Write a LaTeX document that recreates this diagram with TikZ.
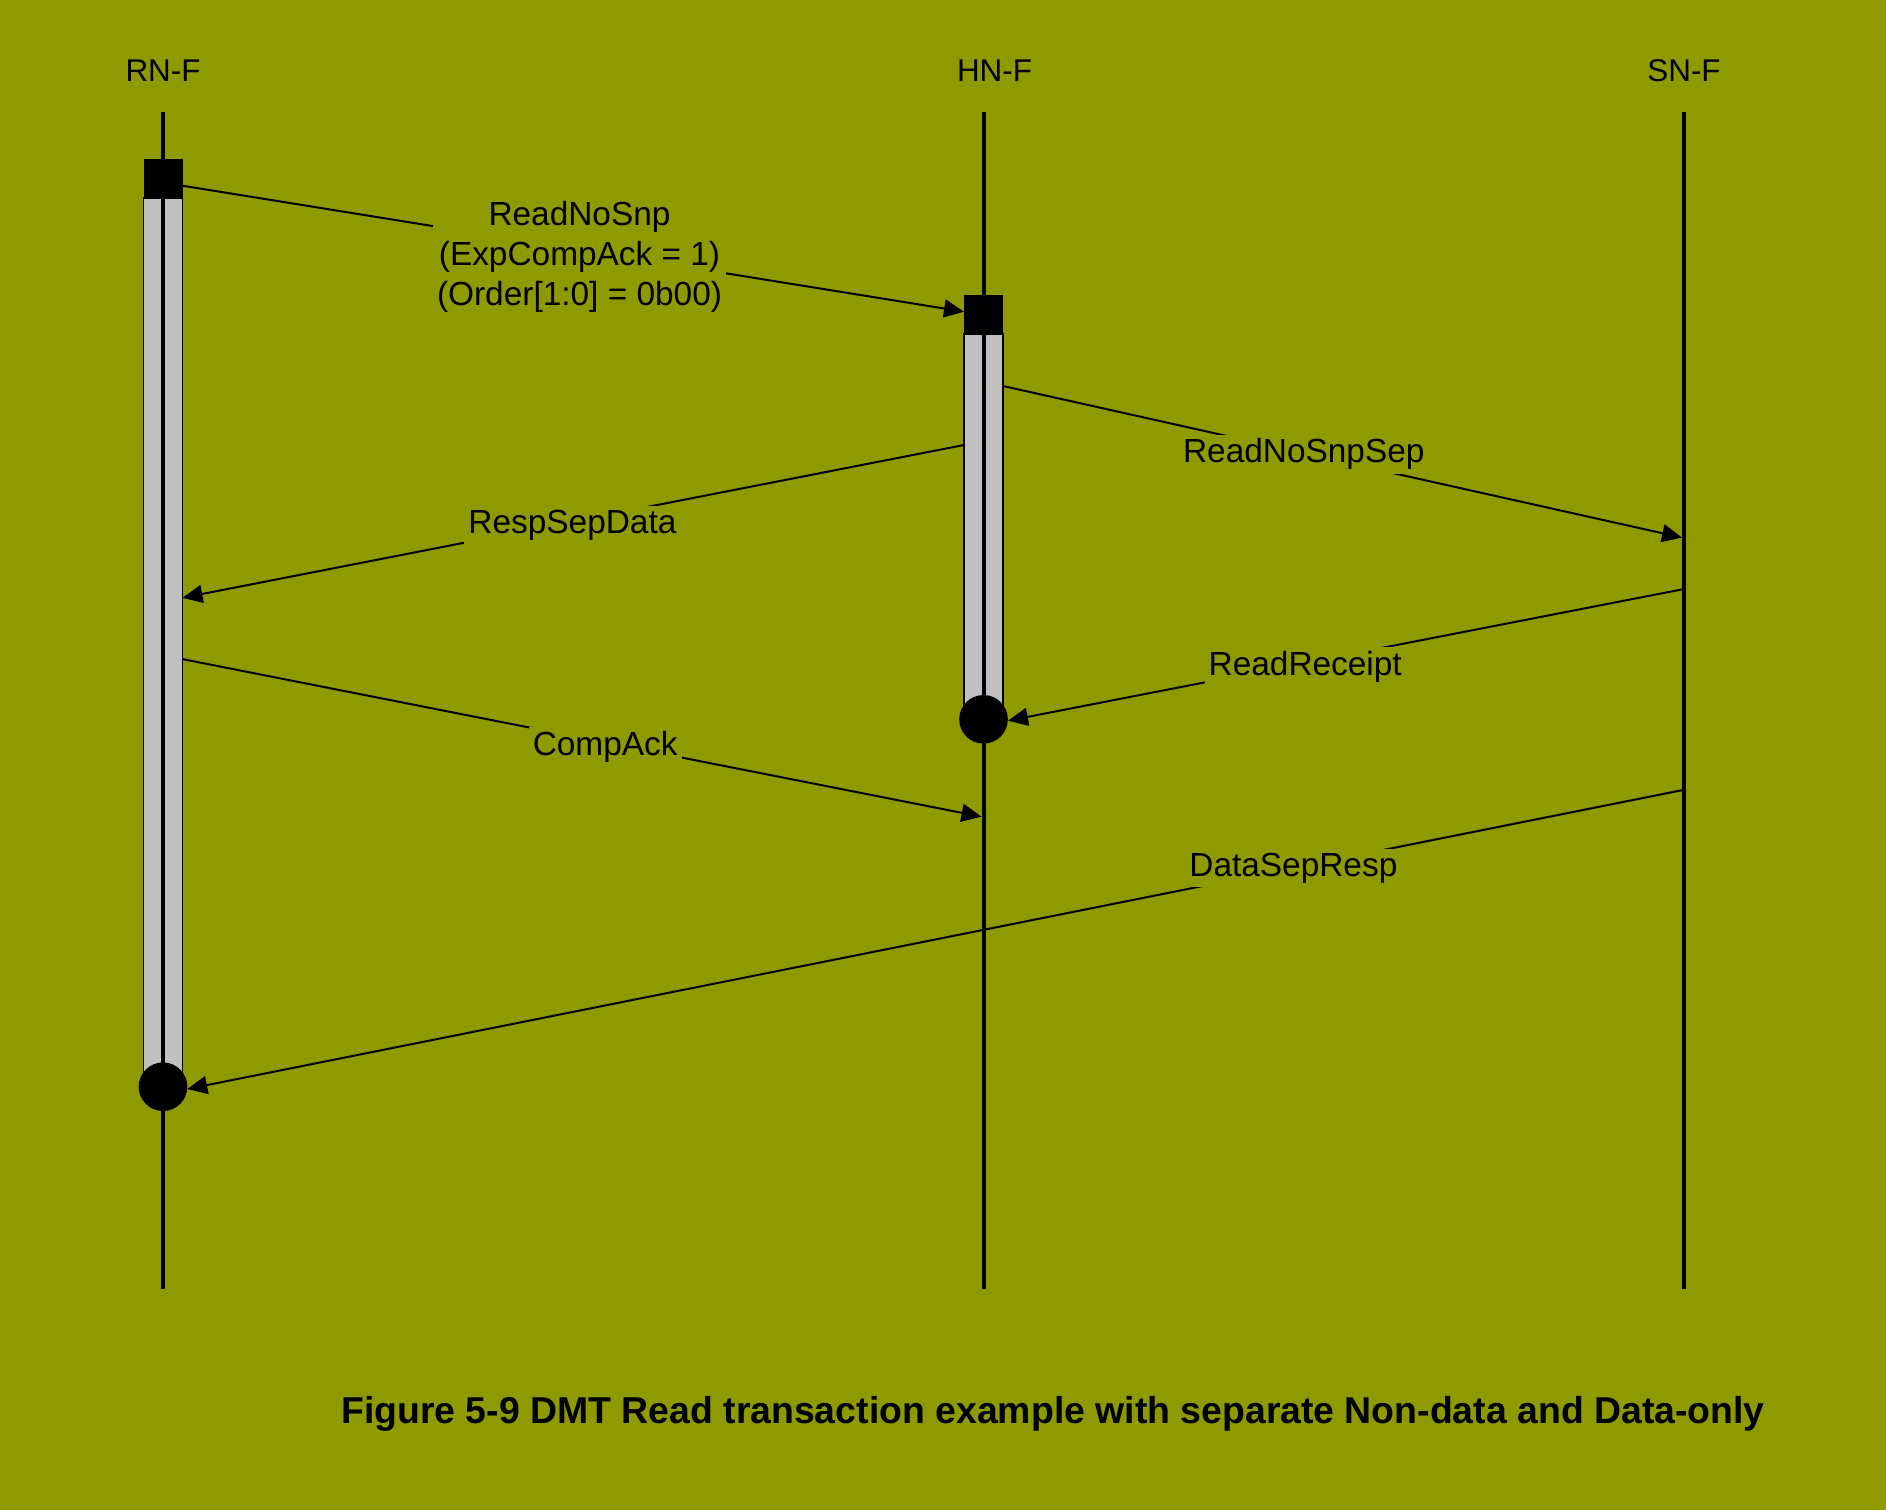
\documentclass[tikz,border=0pt]{standalone}
\usepackage{fontspec}
\setmainfont{Liberation Sans}
\usetikzlibrary{calc, positioning}
\usetikzlibrary{arrows.meta}
\definecolor{bgolive}{RGB}{143,153,0}
\definecolor{actgray}{RGB}{192,192,192}

\begin{document}
\begin{tikzpicture}[x=0.5pt, y=-0.5pt,
  lifeline/.style={line width=2pt},
  actbox/.style={fill=actgray, draw=black, line width=0.65pt},
  msg/.style={line width=1pt, -{Triangle[length=10pt, width=9pt]}},
  msglabel/.style={fill=bgolive, inner sep=2pt, align=center, yshift=-2pt,
    font=\fontsize{16.7}{19.9}\selectfont},
  headlabel/.style={anchor=base, font=\fontsize{15.7}{18}\selectfont}]
\def\rnX{163}
\def\hnX{983.5}
\def\snX{1684}
\def\lifeTop{112.3}
\def\lifeBot{1289}
\def\halfW{19.5}
\def\dotR{24.3}

% background and page size
\fill[bgolive] (0,0) rectangle (1886,1510);
\useasboundingbox (0,0) rectangle (1886,1510);

% lifelines
\node[headlabel] (rn) at (\rnX,81.7) {RN-F};
\node[headlabel] (hn) at (\hnX+11,81.7) {HN-F};
\node[headlabel] (sn) at (\snX,81.7) {SN-F};

\coordinate (rnTop) at (\rnX,\lifeTop);
\coordinate (rnBot) at (\rnX,\lifeBot);
\coordinate (hnTop) at (\hnX,\lifeTop);
\coordinate (hnBot) at (\hnX,\lifeBot);
\coordinate (snTop) at (\snX,\lifeTop);
\coordinate (snBot) at (\snX,\lifeBot);

% activation bars
\draw[actbox] (\rnX-\halfW,198) rectangle (\rnX+\halfW,1086.7);
\draw[actbox] (\hnX-\halfW,334) rectangle (\hnX+\halfW,719.3);

\draw[lifeline] (rnTop) -- (rnBot);
\draw[lifeline] (hnTop) -- (hnBot);
\draw[lifeline] (snTop) -- (snBot);

\fill (\rnX-\halfW,159) rectangle (\rnX+\halfW,198);
\fill (\hnX-\halfW,295) rectangle (\hnX+\halfW,334);
\fill (\rnX,1086.7) circle (\dotR);
\fill (\hnX,719.3) circle (\dotR);

% message end points
\coordinate (rdStart) at (\rnX+\halfW,185.7);
\coordinate (rdEnd) at (\hnX-\halfW,311.7);
\coordinate (sepStart) at (\hnX+\halfW,386);
\coordinate (sepEnd) at (\snX-2,537.6);
\coordinate (rspStart) at (\hnX-\halfW,445);
\coordinate (rspEnd) at (\rnX+\halfW,597.8);
\coordinate (ackStart) at (\rnX+\halfW,659.1);
\coordinate (ackEnd) at (\hnX-2,816.7);
\coordinate (rcptStart) at (\snX-2,589.4);
\coordinate (rcptEnd) at (1008,720.7);
\coordinate (dsrStart) at (\snX-2,790.2);
\coordinate (dsrEnd) at (187.3,1089);

% messages
\draw[msg] (rdStart) -- (rdEnd)
  node[msglabel, pos=0.508, yshift=-1.5pt] (rdLbl)
  {ReadNoSnp\\(ExpCompAck = 1)\\(Order[1:0] = 0b00)};
\draw[msg] (sepStart) -- (sepEnd)
  node[msglabel, pos=0.443, yshift=1.5pt] (sepLbl) {ReadNoSnpSep};
\draw[msg] (rspStart) -- (rspEnd)
  node[msglabel, pos=0.501] (rspLbl) {RespSepData};
\draw[msg] (ackStart) -- (ackEnd)
  node[msglabel, pos=0.529] (ackLbl) {CompAck};
\draw[msg] (rcptStart) -- (rcptEnd)
  node[msglabel, pos=0.559] (rcptLbl) {ReadReceipt};
\draw[msg] (dsrStart) -- (dsrEnd)
  node[msglabel, pos=0.26, yshift=2pt] (dsrLbl) {DataSepResp};

% caption
\node[anchor=base, font=\fontsize{18.7}{22}\selectfont\bfseries] (caption)
  at (1053,1423)
  {Figure 5-9 DMT Read transaction example with separate Non-data and Data-only};
\end{tikzpicture}
\end{document}
